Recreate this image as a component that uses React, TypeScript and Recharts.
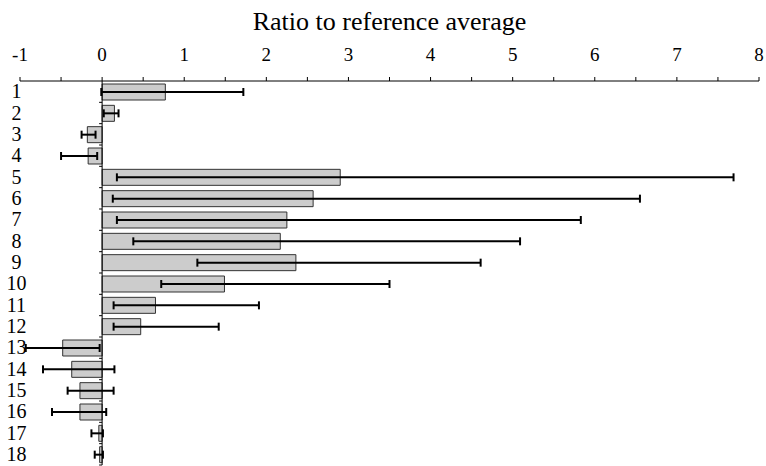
import React from 'react';
import { BarChart, Bar, XAxis, YAxis, ErrorBar, ReferenceLine } from 'recharts';

// ── Data ─────────────────────────────────────────────────────────────────────

const categories = ['1', '2', '3', '4', '5', '6', '7', '8', '9', '10', '11', '12', '13', '14', '15', '16', '17', '18'];
const ratios = [0.77, 0.15, -0.18, -0.17, 2.9, 2.57, 2.25, 2.17, 2.36, 1.49, 0.65, 0.47, -0.48, -0.37, -0.27, -0.27, -0.04, -0.03];
const lowBounds = [-0.01, 0.02, -0.25, -0.5, 0.18, 0.13, 0.18, 0.38, 1.16, 0.72, 0.14, 0.14, -0.93, -0.72, -0.42, -0.61, -0.13, -0.09];
const highBounds = [1.72, 0.2, -0.08, -0.06, 7.69, 6.55, 5.83, 5.09, 4.61, 3.5, 1.91, 1.42, -0.03, 0.15, 0.14, 0.05, 0.01, 0.01];
const xTicks = [-1, -0.5, 0, 0.5, 1, 1.5, 2, 2.5, 3, 3.5, 4, 4.5, 5, 5.5, 6, 6.5, 7, 7.5, 8];

// ── Layout constants ─────────────────────────────────────────────────────────

const W = 766;
const H = 466;
const M = { top: 0, right: 7, bottom: 1, left: 0 };
const Y_AXIS_W = 20;
const X_AXIS_H = 81;
const X_DOMAIN: [number, number] = [-1, 8];
const FONT = '"Liberation Serif", "Times New Roman", serif';

const plotLeft = M.left + Y_AXIS_W;
const plotWidth = W - plotLeft - M.right;
const zeroX = plotLeft + ((0 - X_DOMAIN[0]) / (X_DOMAIN[1] - X_DOMAIN[0])) * plotWidth;
const band = (H - M.top - M.bottom - X_AXIS_H) / categories.length;

const rows = categories.map((name, i) => ({
  name,
  value: ratios[i],
  err: [ratios[i] - lowBounds[i], highBounds[i] - ratios[i]],
}));

// top axis: every half step gets a tick, whole numbers get a label
function TopTick(props: any) {
  const { x, y, payload } = props;
  const major = Number.isInteger(payload.value);
  return (
    <g>
      <line x1={x} y1={y} x2={x} y2={y - 4} stroke="#000" strokeWidth={1} />
      {major && (
        <text x={x} y={y - 20} textAnchor="middle" fontSize={19} fontFamily={FONT} fill="#000">
          {payload.value}
        </text>
      )}
    </g>
  );
}

// row label at far left + little boundary tick on the zero line
function RowTick(props: any) {
  const { y, payload } = props;
  return (
    <g>
      <text x={16.5} y={y} dy="0.34em" textAnchor="middle" fontSize={20} fontFamily={FONT} fill="#000">
        {payload.value}
      </text>
      <line x1={zeroX - 3} y1={y + band / 2} x2={zeroX} y2={y + band / 2} stroke="#000" strokeWidth={1} />
    </g>
  );
}

export default function App() {
  return (
    <div style={{ position: 'absolute', left: 0, top: 0, background: '#fff' }}>
      <BarChart width={W} height={H} data={rows} layout="vertical" margin={M} barSize={16}>
        <XAxis
          type="number"
          orientation="top"
          domain={X_DOMAIN}
          ticks={xTicks}
          interval={0}
          height={X_AXIS_H}
          tickSize={0}
          tickMargin={0}
          tickLine={false}
          axisLine={{ stroke: '#000', strokeWidth: 1 }}
          tick={<TopTick />}
          label={{
            value: 'Ratio to reference average',
            position: 'insideTop',
            offset: 12,
            fontSize: 26,
            fontFamily: FONT,
            fill: '#000',
          }}
        />
        <YAxis
          type="category"
          dataKey="name"
          width={Y_AXIS_W}
          axisLine={false}
          tickLine={false}
          interval={0}
          tick={<RowTick />}
        />
        <ReferenceLine x={0} stroke="#000" strokeWidth={1} ifOverflow="extendDomain" />
        <Bar dataKey="value" fill="#cccccc" stroke="#333" strokeWidth={1} isAnimationActive={false}>
          <ErrorBar dataKey="err" direction="x" width={4} stroke="#000" strokeWidth={2} isAnimationActive={false} />
        </Bar>
      </BarChart>
    </div>
  );
}
